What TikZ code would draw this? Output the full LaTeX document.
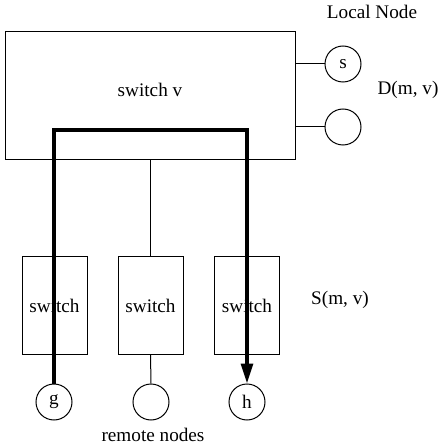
\documentclass[tikz,border=0pt]{standalone}
\usepackage{fontspec}
\setmainfont{Liberation Serif}
\usetikzlibrary{arrows.meta}
\tikzset{
  bigbox/.style={draw, line width=0.5pt, minimum width=145pt, minimum height=64pt, inner sep=0pt},
  swbox/.style={draw, line width=0.5pt, minimum width=32.5pt, minimum height=48.5pt, inner sep=0pt},
  endpt/.style={draw, circle, line width=0.5pt, minimum size=18pt, inner sep=0pt},
  tag/.style={inner sep=0pt},
  link/.style={line width=0.5pt},
  route/.style={line width=1.6pt},
}
\begin{document}
\begin{tikzpicture}[x=0.5pt,y=-0.5pt,font=\fontsize{9.6}{11}\selectfont]
\useasboundingbox (0,0) rectangle (445,444);
% local switch and its nodes
\node[bigbox] (sv) at (150,96) {};
\node[tag] (svtext) at (150,90) {switch v};
\node[endpt] (s) at (343,64) {s};
\node[endpt] (d2) at (343,127) {};
\draw[link] (s.west) -- (s.west -| sv.east);
\draw[link] (d2.west) -- (d2.west -| sv.east);
\node[tag] (local) at (372,12) {Local Node};
\node[tag] (dmv) at (408,90) {D(m, v)};
% remote switches
\node[swbox] (sw1) at (54.5,305.5) {switch};
\node[swbox] (sw2) at (150.5,305.5) {switch};
\node[swbox] (sw3) at (247,305.5) {switch};
\node[tag] (smv) at (340,300) {S(m, v)};
% remote nodes
\node[endpt] (g) at (54,402) {g};
\node[endpt] (r2) at (151,402) {};
\node[endpt] (h) at (247,402) {h};
\node[tag] (remote) at (153,435) {remote nodes};
\draw[link] (sw2.north) -- (sw2.north |- sv.south);
\draw[link] (sw2.south) -- (r2.north);
% route from g to h
\coordinate (gtop) at (54,130);
\coordinate (htop) at (247,130);
\draw[route, -{Triangle[length=10pt,width=6pt]}] (g.north) -- (gtop) -- (htop) -- (h.north);
\end{tikzpicture}
\end{document}
